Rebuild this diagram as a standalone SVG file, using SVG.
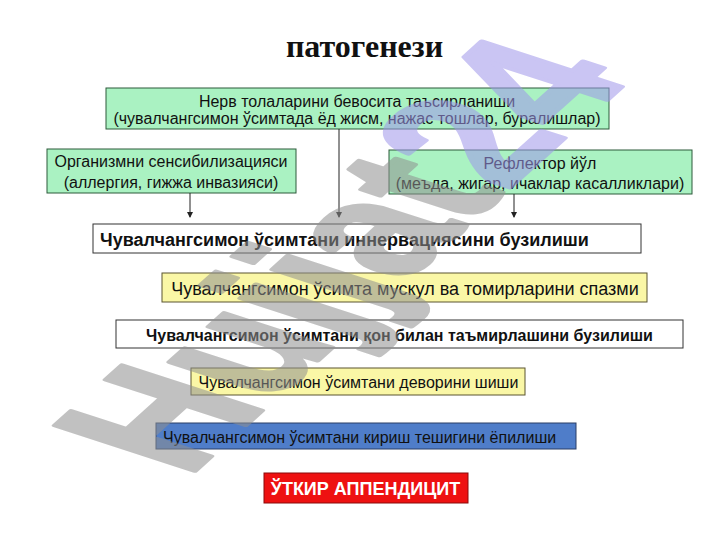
<svg xmlns="http://www.w3.org/2000/svg" width="720" height="540" viewBox="0 0 720 540">
<style>
.t{font-family:"Liberation Sans",Arial,sans-serif;fill:#111}
.g{fill:#aaf2c2;stroke:#2d5a3a;stroke-width:1}
.y{fill:#faf7a6;stroke:#5a5530;stroke-width:1}
.w{fill:#fff;stroke:#333;stroke-width:1}
.c{stroke:#222;stroke-width:1;fill:none;marker-end:url(#ah)}
</style>
<defs>
<marker id="ah" markerWidth="6" markerHeight="6" refX="5" refY="3" orient="auto" markerUnits="userSpaceOnUse">
<path d="M0,0 L6,3 L0,6 Z" fill="#222"/>
</marker>
</defs>
<rect width="720" height="540" fill="#fff"/>
<text x="364.5" y="57" text-anchor="middle" font-family="'Liberation Serif','Times New Roman',serif" font-weight="bold" font-size="32" fill="#111">патогенези</text>

<g id="n1">
<rect class="g" x="106" y="88" width="503" height="41"/>
<text class="t" x="357" y="107" text-anchor="middle" font-size="16">Нерв толаларини бевосита таъсирланиши</text>
<text class="t" x="357" y="123.5" text-anchor="middle" font-size="16">(чувалчангсимон ўсимтада ёд жисм, нажас тошлар, буралишлар)</text>
</g>
<g id="n2">
<rect class="g" x="47" y="149" width="249" height="44"/>
<text class="t" x="171" y="167" text-anchor="middle" font-size="16">Организмни сенсибилизацияси</text>
<text class="t" x="171" y="188" text-anchor="middle" font-size="16">(аллергия, гижжа инвазияси)</text>
</g>
<g id="n3">
<rect class="g" x="389" y="150" width="303" height="44"/>
<text class="t" x="540" y="169" text-anchor="middle" font-size="16">Рефлектор йўл</text>
<text class="t" x="540" y="189" text-anchor="middle" font-size="16">(меъда, жигар, ичаклар касалликлари)</text>
</g>
<g id="connectors">
<line class="c" x1="190" y1="193" x2="190" y2="217"/>
<line class="c" x1="339" y1="129" x2="339" y2="217"/>
<line class="c" x1="514" y1="194" x2="514" y2="217"/>
</g>
<g id="n4">
<rect class="w" x="93" y="224" width="548" height="29"/>
<text class="t" x="100" y="246" font-size="18" font-weight="bold">Чувалчангсимон ўсимтани иннервациясини бузилиши</text>
</g>
<g id="n5">
<rect class="y" x="162" y="273" width="485" height="29"/>
<text class="t" x="405" y="295" text-anchor="middle" font-size="18">Чувалчангсимон ўсимта мускул ва томирларини спазми</text>
</g>
<g id="n6">
<rect class="w" x="116" y="320" width="567" height="28"/>
<text class="t" x="399.5" y="341" text-anchor="middle" font-size="16" font-weight="bold">Чувалчангсимон ўсимтани қон билан таъмирлашини бузилиши</text>
</g>
<g id="n7">
<rect class="y" x="191" y="368" width="334" height="27"/>
<text class="t" x="358.5" y="388" text-anchor="middle" font-size="16">Чувалчангсимон ўсимтани деворини шиши</text>
</g>
<g id="n8">
<rect x="156" y="423" width="420" height="26" fill="#4f7dc9" stroke="#2a3f66" stroke-width="1"/>
<text class="t" x="163" y="443" font-size="16">Чувалчангсимон ўсимтани кириш тешигини ёпилиши</text>
</g>
<g id="n9">
<rect x="264" y="473" width="204" height="30" fill="#ee1111" stroke="#8a0a0a" stroke-width="1"/>
<text x="365.5" y="495" text-anchor="middle" font-family="'Liberation Sans',Arial,sans-serif" font-size="18" font-weight="bold" fill="#fff">ЎТКИР АППЕНДИЦИТ</text>
</g>
<g opacity="0.55">
<text transform="translate(187,478) rotate(-42) skewX(30)" font-family="'Liberation Sans',Arial,sans-serif" font-weight="bold" font-size="185" textLength="600" lengthAdjust="spacingAndGlyphs" stroke-width="5" stroke-linejoin="round"><tspan fill="#909090" stroke="#909090">Hujjat</tspan><tspan fill="#9f96eb" stroke="#9f96eb">24</tspan></text>
</g>
</svg>
